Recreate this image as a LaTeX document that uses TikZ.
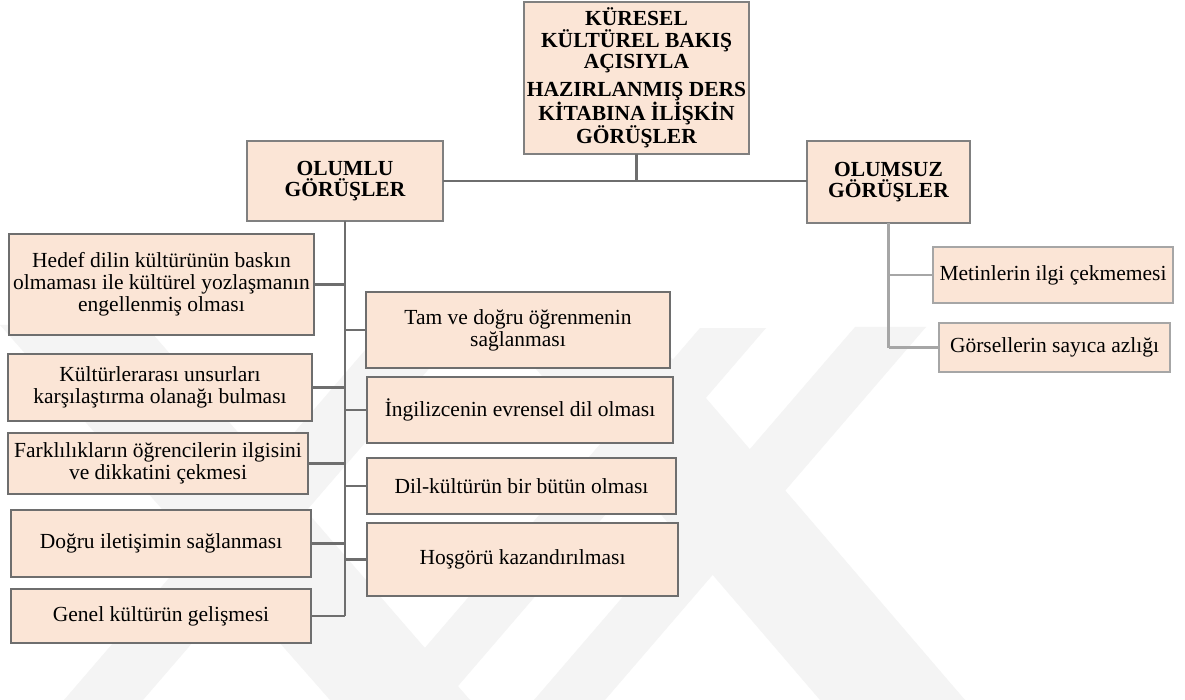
\documentclass[tikz,border=0pt]{standalone}
\usepackage{fontspec}
\setmainfont{Liberation Serif}
\definecolor{boxfill}{HTML}{FBE5D6}
\definecolor{dkline}{HTML}{6E6E6E}
\definecolor{midline}{HTML}{808080}
\definecolor{ltline}{HTML}{A6A6A6}
\definecolor{wmark}{HTML}{F4F4F4}
\begin{document}
\begin{tikzpicture}[x=1pt,y=-1pt,
  box/.style={draw=dkline, line width=2.4pt, fill=boxfill, inner sep=0pt, outer sep=0pt,
    align=center, font=\fontsize{21.5}{22}\selectfont},
  hbox/.style={box, draw=midline, font=\bfseries\fontsize{21.5}{21.5}\selectfont},
  lbox/.style={box, draw=ltline, line width=2pt},
  conn/.style={draw=dkline, line width=2.5pt},
  lconn/.style={draw=ltline, line width=2.4pt},
  wm/.style={fill=wmark, draw=none}]
\useasboundingbox (0,0) rectangle (1185,700);
\fill[white] (0,0) rectangle (1185,700);
% watermark bands
\path[wm] (0,325) -- (145,325) -- (470,700) -- (330,700) -- cycle;
\path[wm] (385,327) -- (465,327) -- (143,700) -- (64,700) -- cycle;
\path[wm] (700,328) -- (766,328) -- (446,700) -- (380,700) -- cycle;
\path[wm] (855,327) -- (926,327) -- (605,700) -- (534,700) -- cycle;
\path[wm] (500,327) -- (645,327) -- (965,700) -- (820,700) -- cycle;
% headers
\node[hbox, minimum width=225pt, minimum height=152pt] (top) at (636.5,78)
  {KÜRESEL\\KÜLTÜREL BAKIŞ\\AÇISIYLA\\[6pt]HAZIRLANMIŞ DERS\\KİTABINA İLİŞKİN\\GÖRÜŞLER};
\node[hbox, minimum width=196pt, minimum height=80pt] (olumlu) at (345,181)
  {OLUMLU\\GÖRÜŞLER};
\node[hbox, minimum width=163pt, minimum height=82pt] (olumsuz) at (888.5,182)
  {OLUMSUZ\\GÖRÜŞLER};
% left column
\node[box, minimum width=305pt, minimum height=101pt] (hedef) at (161.5,284.5)
  {Hedef dilin kültürünün baskın\\olmaması ile kültürel yozlaşmanın\\engellenmiş olması};
\node[box, minimum width=304pt, minimum height=67pt] (kult) at (160,387.5)
  {Kültürlerarası unsurları\\karşılaştırma olanağı bulması};
\node[box, minimum width=300pt, minimum height=61pt] (fark) at (158,463.5)
  {Farklılıkların öğrencilerin ilgisini\\ve dikkatini çekmesi};
\node[box, minimum width=300pt, minimum height=67pt] (dogru) at (161,543.5)
  {Doğru iletişimin sağlanması};
\node[box, minimum width=300pt, minimum height=54pt] (genel) at (161,616)
  {Genel kültürün gelişmesi};
% middle column
\node[box, minimum width=304pt, minimum height=76pt] (tam) at (518,330)
  {Tam ve doğru öğrenmenin\\sağlanması};
\node[box, minimum width=306pt, minimum height=66pt] (ing) at (520,410)
  {İngilizcenin evrensel dil olması};
\node[box, minimum width=309pt, minimum height=56pt] (dil) at (521.5,486)
  {Dil-kültürün bir bütün olması};
\node[box, minimum width=311pt, minimum height=73pt] (hos) at (522.5,559.5)
  {Hoşgörü kazandırılması};
% right column
\node[lbox, minimum width=240pt, minimum height=56pt] (metin) at (1053,275)
  {Metinlerin ilgi çekmemesi};
\node[lbox, minimum width=231pt, minimum height=49pt] (gors) at (1054.5,347.5)
  {Görsellerin sayıca azlığı};
% connectors
\draw[conn] (olumlu.east) -- (olumlu.east -| olumsuz.west);
\draw[conn] (top.south) -- (top.south |- olumlu.east);
\draw[conn] (olumlu.south) -- (olumlu.south |- genel.east);
\foreach \n in {hedef,kult,fark,dogru,genel}
  \draw[conn] (\n.east) -- (\n.east -| olumlu.south);
\foreach \n in {tam,ing,dil,hos}
  \draw[conn] (\n.west) -- (\n.west -| olumlu.south);
\draw[lconn] (olumsuz.south) -- (olumsuz.south |- gors.west);
\foreach \n in {metin,gors}
  \draw[lconn] (\n.west) -- (\n.west -| olumsuz.south);
\end{tikzpicture}
\end{document}
